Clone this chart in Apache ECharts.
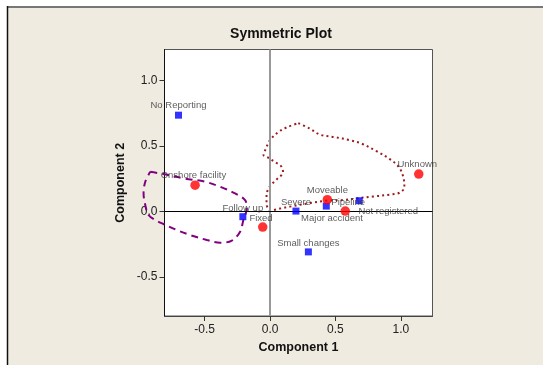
<!DOCTYPE html>
<html>
<head>
<meta charset="utf-8">
<script src="https://cdn.jsdelivr.net/npm/echarts@6/dist/echarts.min.js"></script>
<style>html,body{margin:0;padding:0;background:#fff}#c{width:543px;height:365px}</style>
</head>
<body>
<div id="c"></div>
<script>
// ---- data ----
const titleText = 'Symmetric Plot';
const xName = 'Component 1';
const yName = 'Component 2';
const xTicks = [-0.5, 0.0, 0.5, 1.0];
const yTicks = [-0.5, 0.0, 0.5, 1.0];

const blueNames = ['No Reporting', 'Follow up', 'Severe', 'Major accident', 'Pipeline', 'Small changes'];
const blueX = [-0.700, -0.208, 0.198, 0.430, 0.682, 0.293];
const blueY = [0.735, -0.041, 0.002, 0.040, 0.081, -0.310];

const redNames = ['Onshore facility', 'Fixed', 'Moveable', 'Not registered', 'Unknown'];
const redX = [-0.573, -0.056, 0.438, 0.575, 1.137];
const redY = [0.200, -0.120, 0.089, 0.002, 0.285];

// dashed purple outline
const dashX = [-0.916, -0.815, -0.662, -0.496, -0.382, -0.267, -0.191, -0.178, -0.204, -0.229, -0.292, -0.382, -0.483, -0.611, -0.712, -0.815, -0.878, -0.929, -0.954, -0.967, -0.954, -0.916];
const dashY = [0.302, 0.285, 0.252, 0.226, 0.188, 0.137, 0.086, 0.023, -0.066, -0.156, -0.224, -0.240, -0.219, -0.181, -0.143, -0.097, -0.066, -0.028, 0.048, 0.137, 0.226, 0.302];

// dotted dark red outline
const dotX = [0.216, 0.305, 0.382, 0.496, 0.611, 0.702, 0.814, 0.916, 0.985, 1.019, 1.027, 0.992, 0.916, 0.786, 0.664, 0.557, 0.435, 0.305, 0.153, 0.076, 0.000, -0.027, -0.027, 0.000, 0.053, 0.099, 0.084, 0.038, -0.015, -0.050, -0.034, 0.000, 0.061, 0.130, 0.216];
const dotY = [0.674, 0.632, 0.586, 0.567, 0.544, 0.517, 0.460, 0.399, 0.338, 0.262, 0.185, 0.143, 0.128, 0.113, 0.099, 0.086, 0.082, 0.063, 0.036, 0.021, 0.006, 0.063, 0.124, 0.193, 0.246, 0.300, 0.346, 0.376, 0.411, 0.430, 0.475, 0.544, 0.605, 0.643, 0.674];

// ---- layout / styling ----
const W = 543;
const G = { left: 164.5, right: 110.5, top: 49.5, bottom: 49 };
const X_MIN = -0.807, X_MAX = 1.242, Y_MIN = -0.8, Y_MAX = 1.237;
// overlay grid with a wider x extent (same scale) so the dashed outline can run past the frame
const X2_MIN = -1.05;
const pxPerUnit = (W - G.left - G.right) / (X_MAX - X_MIN);
const G2left = G.left - (X_MIN - X2_MIN) * pxPerUnit;

const labelOffset = {
  'No Reporting': [0, -9.5],
  'Follow up': [0, -8],
  'Severe': [0, -8.5],
  'Major accident': [5.7, 12.3],
  'Pipeline': [-11, 1.6],
  'Small changes': [0, -8.2],
  'Onshore facility': [-1.7, -10],
  'Fixed': [-1.7, -9],
  'Moveable': [0, -9.7],
  'Not registered': [43, 0],
  'Unknown': [-1.5, -9.7]
};

const FONT = 'Liberation Sans';
const zip = (xs, ys) => xs.map((x, i) => [x, ys[i]]);
const pts = (names, xs, ys) => names.map((n, i) => ({
  name: n, value: [xs[i], ys[i]],
  label: { offset: labelOffset[n] }
}));
const ptLabel = {
  show: true, formatter: '{b}', position: 'inside', align: 'center', verticalAlign: 'middle',
  color: '#333', fontSize: 9.5, fontFamily: FONT
};
const fmt = v => v.toFixed(1);

const chart = echarts.init(document.getElementById('c'), null, { renderer: 'canvas' });
chart.setOption({
  backgroundColor: '#EFEBE1',
  animation: false,
  title: {
    text: titleText, left: 276, top: 22, textAlign: 'center',
    textStyle: { fontFamily: FONT, fontWeight: 'bold', fontSize: 14, color: '#111' }
  },
  graphic: [
    { type: 'rect', shape: { x: 0, y: 0, width: 543, height: 6 }, style: { fill: '#fff' }, silent: true },
    { type: 'rect', shape: { x: 0, y: 0, width: 7, height: 365 }, style: { fill: '#fff' }, silent: true },
    { type: 'line', shape: { x1: 7, y1: 7, x2: 543, y2: 7 }, style: { stroke: '#777', lineWidth: 2 }, silent: true },
    { type: 'line', shape: { x1: 7.5, y1: 6, x2: 7.5, y2: 365 }, style: { stroke: '#111', lineWidth: 1.5 }, silent: true }
  ],
  grid: [
    { left: G.left, right: G.right, top: G.top, bottom: G.bottom,
      show: true, backgroundColor: '#fff', borderColor: '#555', borderWidth: 1 },
    { left: G2left, right: G.right, top: G.top, bottom: G.bottom, show: false }
  ],
  xAxis: [{
    type: 'value', min: X_MIN, max: X_MAX, gridIndex: 0,
    name: xName, nameLocation: 'middle', nameGap: 23,
    nameTextStyle: { fontFamily: FONT, fontWeight: 'bold', fontSize: 12.5, color: '#111' },
    axisLine: { show: true, onZero: false, lineStyle: { color: '#444', width: 1 } },
    axisTick: { show: true, inside: false, length: 5, customValues: xTicks, lineStyle: { color: '#333' } },
    axisLabel: { customValues: xTicks, formatter: fmt, margin: 8, fontFamily: FONT, fontSize: 12, color: '#222' },
    splitLine: { show: false }
  }, {
    type: 'value', min: X2_MIN, max: X_MAX, gridIndex: 1, show: false
  }],
  yAxis: [{
    type: 'value', min: Y_MIN, max: Y_MAX, gridIndex: 0,
    name: yName, nameLocation: 'middle', nameGap: 37,
    nameTextStyle: { fontFamily: FONT, fontWeight: 'bold', fontSize: 12.5, color: '#111' },
    axisLine: { show: true, onZero: false, lineStyle: { color: '#111', width: 1 } },
    axisTick: { show: true, inside: false, length: 5, customValues: yTicks, lineStyle: { color: '#333' } },
    axisLabel: { customValues: yTicks, formatter: fmt, margin: 7, fontFamily: FONT, fontSize: 12, color: '#222' },
    splitLine: { show: false }
  }, {
    type: 'value', min: Y_MIN, max: Y_MAX, gridIndex: 1, show: false
  }],
  series: [
    {
      type: 'line', data: [], silent: true, z: 1,
      markLine: {
        silent: true, symbol: 'none', label: { show: false }, animation: false,
        data: [
          { xAxis: 0, lineStyle: { color: '#999', width: 2, type: 'solid' } },
          { yAxis: 0, lineStyle: { color: '#000', width: 1, type: 'solid' } }
        ]
      }
    },
    {
      type: 'line', data: zip(dashX, dashY), xAxisIndex: 1, yAxisIndex: 1,
      smooth: 0.35, clip: false, symbol: 'none', z: 3,
      lineStyle: { color: '#800080', width: 2, type: [7, 5] }
    },
    {
      type: 'line', data: zip(dotX, dotY), smooth: 0.35, clip: false, symbol: 'none', z: 3,
      lineStyle: { color: '#9B1B1B', width: 2, type: [2, 3.2] }
    },
    {
      type: 'scatter', data: pts(blueNames, blueX, blueY), symbol: 'rect', symbolSize: 7, z: 5,
      itemStyle: { color: '#0000FF' }, label: ptLabel
    },
    {
      type: 'scatter', data: pts(redNames, redX, redY), symbol: 'circle', symbolSize: 9.5, z: 5,
      itemStyle: { color: '#FF0000' }, label: ptLabel
    }
  ]
});
</script>
</body>
</html>
